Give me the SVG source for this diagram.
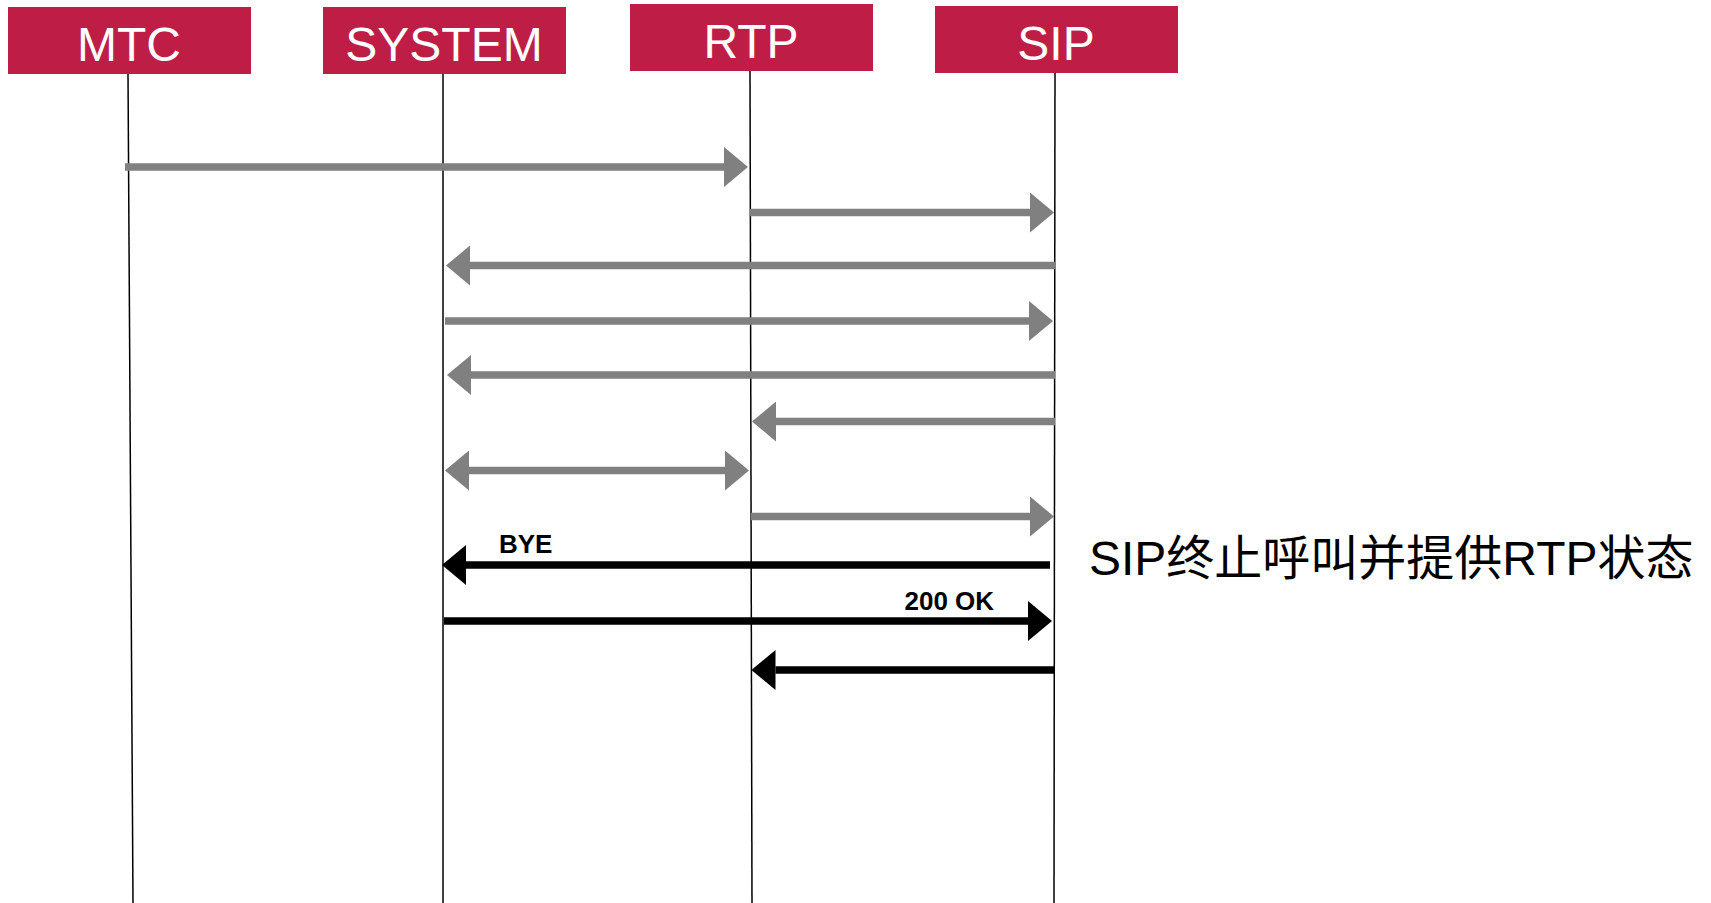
<svg xmlns="http://www.w3.org/2000/svg" width="1711" height="903" viewBox="0 0 1711 903">
<defs>
<style>
.hdr{fill:#BE1E45}
.hdrt{fill:#fff;font-family:"Liberation Sans",Arial,sans-serif;font-size:48px;text-anchor:middle}
.life{stroke:#000;stroke-width:1.5;fill:none}
.g{stroke:#808080;stroke-width:7.5;fill:none}
.k{stroke:#000;stroke-width:7.5;fill:none}
.lbl{font-family:"Liberation Sans",Arial,sans-serif;font-size:26px;font-weight:bold;fill:#000}
.note{font-family:"Liberation Sans",Arial,"Noto Sans CJK SC",sans-serif;font-size:48px;fill:#000}
</style>
<marker id="ag" markerUnits="userSpaceOnUse" markerWidth="24" markerHeight="40" viewBox="0 0 24 40" refX="0" refY="20" orient="auto-start-reverse"><path d="M0,0 L24,20 L0,40 z" fill="#808080"/></marker>
<marker id="ak" markerUnits="userSpaceOnUse" markerWidth="24" markerHeight="40" viewBox="0 0 24 40" refX="0" refY="20" orient="auto-start-reverse"><path d="M0,0 L24,20 L0,40 z" fill="#000"/></marker>
</defs>
<rect width="1711" height="903" fill="#fff"/>
<g id="lifelines">
<line class="life" x1="128" y1="73" x2="133" y2="903"/>
<line class="life" x1="443" y1="73" x2="443" y2="903"/>
<line class="life" x1="750" y1="70" x2="752" y2="903"/>
<line class="life" x1="1055" y1="72" x2="1054" y2="903"/>
</g>
<g id="node-mtc"><rect class="hdr" x="8" y="7" width="243" height="67"/><text class="hdrt" x="129" y="61">MTC</text></g>
<g id="node-system"><rect class="hdr" x="323" y="7" width="243" height="67"/><text class="hdrt" x="444" y="61">SYSTEM</text></g>
<g id="node-rtp"><rect class="hdr" x="630" y="4" width="243" height="67"/><text class="hdrt" x="751" y="58">RTP</text></g>
<g id="node-sip"><rect class="hdr" x="935" y="6" width="243" height="67"/><text class="hdrt" x="1056" y="60">SIP</text></g>
<g id="connectors">
<line class="g" x1="125" y1="167" x2="724" y2="167" marker-end="url(#ag)"/>
<line class="g" x1="750" y1="212.5" x2="1030" y2="212.5" marker-end="url(#ag)"/>
<line class="g" x1="1055" y1="265.5" x2="470" y2="265.5" marker-end="url(#ag)"/>
<line class="g" x1="445" y1="321" x2="1029" y2="321" marker-end="url(#ag)"/>
<line class="g" x1="1055" y1="375" x2="471" y2="375" marker-end="url(#ag)"/>
<line class="g" x1="1055" y1="421.5" x2="776" y2="421.5" marker-end="url(#ag)"/>
<line class="g" x1="469" y1="470.5" x2="725" y2="470.5" marker-start="url(#ag)" marker-end="url(#ag)"/>
<line class="g" x1="751" y1="516.5" x2="1030" y2="516.5" marker-end="url(#ag)"/>
<line class="k" x1="1050" y1="565" x2="466" y2="565" marker-end="url(#ak)"/>
<line class="k" x1="444" y1="621" x2="1028" y2="621" marker-end="url(#ak)"/>
<line class="k" x1="1054" y1="670" x2="775.5" y2="670" marker-end="url(#ak)"/>
<text class="lbl" x="499" y="553">BYE</text>
<text class="lbl" x="904.5" y="610">200 OK</text>
</g>
<text class="note" x="1089" y="575">SIP终止呼叫并提供RTP状态</text>
</svg>
